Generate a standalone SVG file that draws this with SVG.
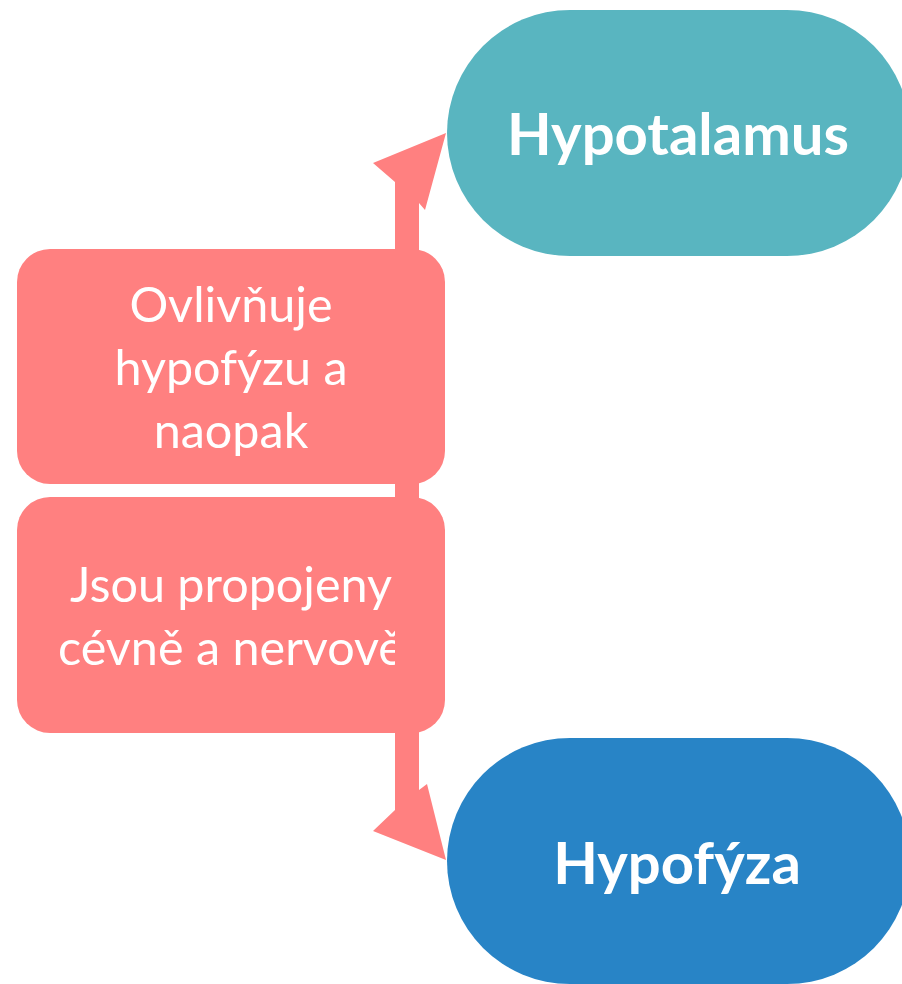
<svg xmlns="http://www.w3.org/2000/svg" width="902" height="984" viewBox="0 0 902 984">
  <style>
    .box { fill: #FF8080; }
    .lbl { font-family: Lato, "Open Sans", "Liberation Sans", sans-serif; fill: #FFFFFF; text-anchor: middle; font-size: 48.5px; }
    .title { font-family: Lato, "Open Sans", "Liberation Sans", sans-serif; fill: #FFFFFF; text-anchor: middle; font-weight: bold; font-size: 58px; }
    .conn { fill: #FF8080; }
  </style>
  <defs>
    <clipPath id="clip2"><rect x="17" y="497" width="378" height="236"/></clipPath>
  </defs>
  <rect width="902" height="984" fill="#FFFFFF"/>
  <g id="connectors">
    <path class="conn" d="M395,182 L373,163 L446,133 L425,210 L419,203 L419,790 L427,784 L446,860 L373,831 L395,810 Z"/>
  </g>
  <g id="hypotalamus">
    <rect x="447" y="10" width="463" height="246" rx="123" fill="#59B5C0"/>
    <text class="title" x="678" y="155">Hypotalamus</text>
  </g>
  <g id="hypofyza">
    <rect x="447" y="738" width="463" height="246" rx="123" fill="#2884C6"/>
    <text class="title" x="677" y="884">Hypofýza</text>
  </g>
  <g id="label1">
    <rect class="box" x="17" y="249" width="428" height="235" rx="33"/>
    <text class="lbl" x="231" y="322">Ovlivňuje</text>
    <text class="lbl" x="231" y="385">hypofýzu a</text>
    <text class="lbl" x="231" y="448">naopak</text>
  </g>
  <g id="label2">
    <rect class="box" x="17" y="497" width="428" height="236" rx="33"/>
    <g clip-path="url(#clip2)">
      <text class="lbl" x="231" y="602">Jsou propojeny</text>
      <text class="lbl" x="231" y="665">cévně a nervově</text>
    </g>
  </g>
</svg>
